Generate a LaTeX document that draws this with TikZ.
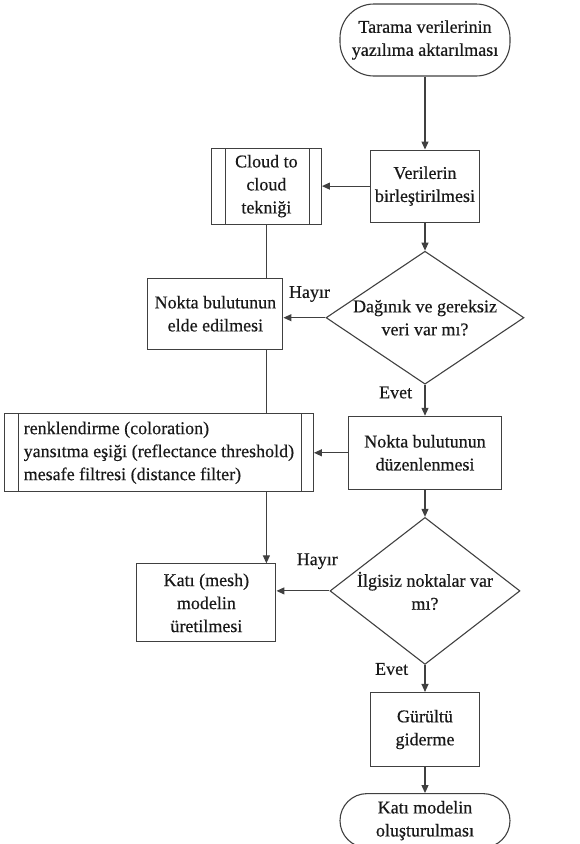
\documentclass[tikz,border=0pt]{standalone}
\usepackage{fontspec}
\setmainfont{Liberation Serif}[FakeBold=0.5]
\usetikzlibrary{positioning, shapes.geometric, arrows.meta}

\tikzset{
    >={Triangle[length=8pt, width=7pt]},
    procbox/.style={draw, align=center, inner sep=2pt},
    termbox/.style={procbox, rounded corners=27pt},
    subbox/.style={procbox, path picture={
        \draw ([xshift=14pt]path picture bounding box.north west) -- ([xshift=14pt]path picture bounding box.south west)
              ([xshift=-12pt]path picture bounding box.north east) -- ([xshift=-12pt]path picture bounding box.south east);}},
    decision/.style={draw, diamond, align=center, inner sep=0pt},
}

\begin{document}
\begin{tikzpicture}[node distance=27pt, line width=1.1pt, color=black!75, text=black!90, font=\fontsize{18}{23}\selectfont]
    \useasboundingbox (0,0) rectangle (579pt,-844pt);

    \node[termbox, rounded corners=34pt, minimum width=170pt, minimum height=72pt] (start) at (425pt,-40pt) {Tarama verilerinin\\yazılıma aktarılması};
    \node[procbox, minimum width=109pt, minimum height=72pt, below=73pt of start]        (merge)     {Verilerin\\birleştirilmesi};
    \node[subbox, minimum width=110pt, minimum height=76pt, left=48pt of merge]          (cloud)     {Cloud to\\cloud\\tekniği};
    \node[decision, aspect=1.5, minimum width=198pt, minimum height=133pt, below=28pt of merge] (check 1) {Dağınık ve gereksiz\\veri var mı?};
    \node[procbox, minimum width=135pt, minimum height=71pt, left=42pt of check 1, yshift=4pt] (cloud pts) {Nokta bulutunun\\elde edilmesi};
    \node[procbox, minimum width=153pt, minimum height=73pt, below=31pt of check 1]      (edit)      {Nokta bulutunun\\düzenlenmesi};
    \node[subbox, align=left, minimum width=309pt, minimum height=78pt, left=34pt of edit] (filters) {renklendirme (coloration)\\yansıtma eşiği (reflectance threshold)\\mesafe filtresi (distance filter)};
    \node[decision, aspect=1.37, minimum width=190pt, minimum height=147pt, below=27pt of edit] (check 2) {İlgisiz noktalar var\\mı?};
    \node[procbox, minimum width=139pt, minimum height=78pt, left=53pt of check 2, yshift=-12pt] (mesh) {Katı (mesh)\\modelin\\üretilmesi};
    \node[procbox, minimum width=109pt, minimum height=74pt, below=27pt of check 2]      (denoise)   {Gürültü\\giderme};
    \node[termbox, minimum width=170pt, minimum height=54pt, below=26pt of denoise]      (end)       {Katı modelin\\oluşturulması};

    \draw[->] (start) -- (merge);
    \draw[->] (merge) -- (cloud);
    \draw[->] (merge) -- (check 1);
    \draw[->] (check 1.west) -- node[above=12pt, pos=0.38] {Hayır} (check 1.west -| cloud pts.east);
    \draw[->] (check 1) -- node[left=9pt, pos=0.25] {Evet} (edit);
    \draw (cloud) -- (cloud pts.north -| cloud.south);
    \draw (cloud pts.south -| cloud.south) -- (filters.north -| cloud.south);
    \draw[->] (edit) -- (filters);
    \draw[->] (edit) -- (check 2);
    \draw[->] (filters.south -| cloud.south) -- (mesh.north -| cloud.south);
    \draw[->] (check 2.west) -- node[above=18pt, pos=0.23] {Hayır} (check 2.west -| mesh.east);
    \draw[->] (check 2) -- node[left=13pt, pos=0.15] {Evet} (denoise);
    \draw[->] (denoise) -- (end);
\end{tikzpicture}
\end{document}
